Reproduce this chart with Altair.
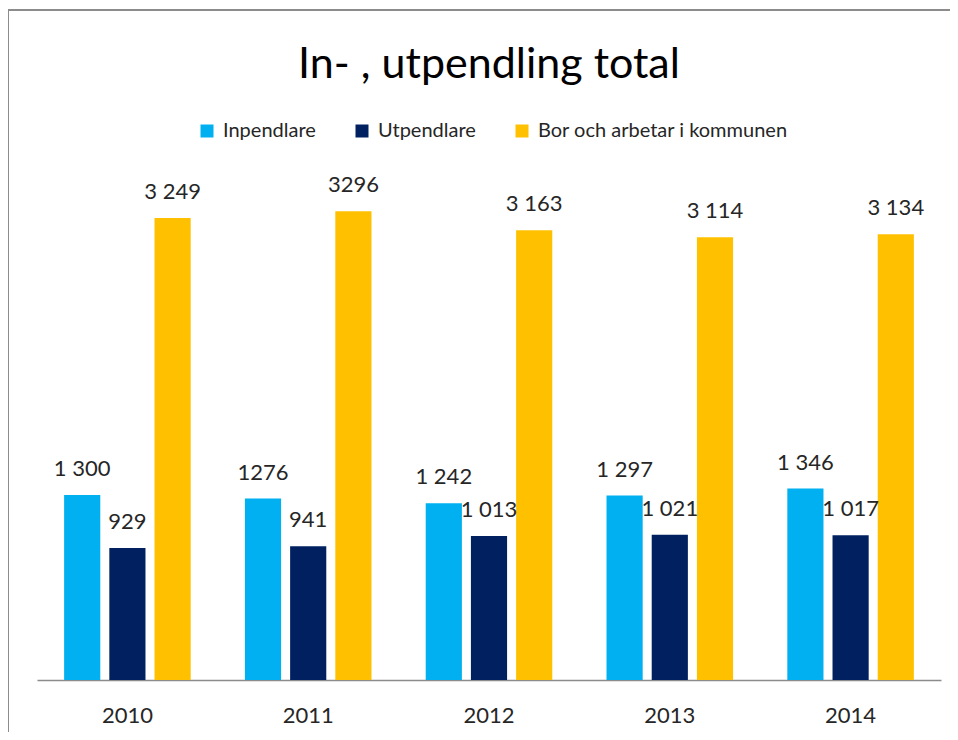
import altair as alt
import pandas as pd

years = ["2010", "2011", "2012", "2013", "2014"]
series = ["Inpendlare", "Utpendlare", "Bor och arbetar i kommunen"]
colors = ["#00B0F0", "#002060", "#FFC000"]

inpendlare = [1300, 1276, 1242, 1297, 1346]
utpendlare = [929, 941, 1013, 1021, 1017]
bor = [3249, 3296, 3163, 3114, 3134]

inpendlare_labels = ["1 300", "1276", "1 242", "1 297", "1 346"]
utpendlare_labels = ["929", "941", "1 013", "1 021", "1 017"]
bor_labels = ["3 249", "3296", "3 163", "3 114", "3 134"]

rows = []
for vals, labs, name in [(inpendlare, inpendlare_labels, series[0]),
                         (utpendlare, utpendlare_labels, series[1]),
                         (bor, bor_labels, series[2])]:
    for y, v, l in zip(years, vals, labs):
        rows.append({"year": y, "serie": name, "value": v, "label": l})
df = pd.DataFrame(rows)

FONT = "Lato"
TEXT = "#262626"
FRAME = "#8c8c8c"

x = alt.X("year:N", sort=years, title=None,
          scale=alt.Scale(paddingInner=0.25, paddingOuter=0.125),
          axis=alt.Axis(labelAngle=0, ticks=False, labelFontSize=22, labelFont=FONT,
                        labelColor=TEXT, labelPadding=25, domainColor=FRAME,
                        domainWidth=1.5, grid=False))
xoff = alt.XOffset("serie:N", sort=series,
                   scale=alt.Scale(paddingInner=0.2, paddingOuter=0.1))
y = alt.Y("value:Q", scale=alt.Scale(domain=[0, 4008], nice=False), axis=None)

bars = alt.Chart(df).mark_bar().encode(
    x=x, xOffset=xoff, y=y,
    color=alt.Color("serie:N", sort=series,
                    scale=alt.Scale(domain=series, range=colors),
                    legend=alt.Legend(title=None, orient="none", direction="horizontal",
                                      legendX=160, legendY=11, symbolType="square",
                                      symbolSize=169, symbolStrokeWidth=0,
                                      labelFontSize=20, labelFont=FONT, labelColor=TEXT,
                                      labelOffset=6, columnPadding=36, padding=0,
                                      labelLimit=500)),
)

labels = alt.Chart(df).mark_text(fontSize=22, font=FONT, color=TEXT, dy=-19,
                                 baseline="alphabetic", align="center").encode(
    x=x, xOffset=xoff, y=y, text="label:N"
)

frame_top = alt.Chart(pd.DataFrame({"k": [0]})).mark_rule(
    color=FRAME, strokeWidth=2).encode(
    x=alt.value(-29), x2=alt.value(913), y=alt.value(-100))
frame_left = alt.Chart(pd.DataFrame({"k": [0]})).mark_rule(
    color=FRAME, strokeWidth=2).encode(
    x=alt.value(-29), y=alt.value(-100), y2=alt.value(640))

chart = alt.layer(frame_top, frame_left, bars, labels).properties(
    width=904, height=570,
    title=alt.TitleParams("In- , utpendling total", fontSize=43, font=FONT,
                          fontWeight="normal", color="#000000", anchor="middle",
                          baseline="alphabetic", offset=33, dy=145),
    autosize=alt.AutoSizeParams(type="none"),
    padding={"left": 29, "top": 102, "right": 9, "bottom": 52},
).configure_view(stroke=None)

chart.save("out.html", embed_options={"renderer": "svg", "actions": False})
